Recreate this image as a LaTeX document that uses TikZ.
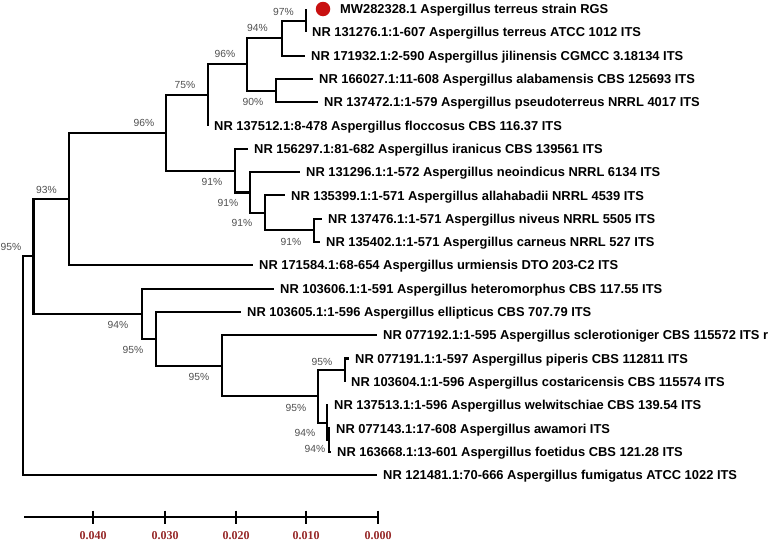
\documentclass[tikz,border=0pt]{standalone}
\usepackage{fontspec}
\newfontfamily\arialfont{Liberation Sans}
\newfontfamily\timesfont{Liberation Serif}
\definecolor{bscol}{RGB}{80,80,80}
\definecolor{scalecol}{RGB}{150,40,40}
\definecolor{dotred}{RGB}{200,16,16}
\begin{document}
\begin{tikzpicture}[x=1pt,y=-1pt,
  br/.style={line width=2.1pt},
  leaf/.style={anchor=west, inner xsep=6pt, inner ysep=0pt, text height=9.3pt, text depth=0pt,
    font=\arialfont\bfseries\fontsize{12.9}{14}\selectfont},
  bs/.style={inner sep=0pt, text=bscol, font=\arialfont\fontsize{10.3}{10.3}\selectfont},
  sclab/.style={inner sep=0pt, text=scalecol, font=\timesfont\bfseries\fontsize{12}{12}\selectfont},
  reddot/.style={circle, fill=dotred, minimum size=14.5pt, inner sep=0pt}]
\useasboundingbox (0,0) rectangle (777,541);
% internal nodes
\coordinate (root) at (23.3,365.7);
\coordinate (n93) at (33.5,256.4);
\coordinate (A) at (69.3,199.05);
\coordinate (B) at (166,132.8);
\coordinate (C) at (208,94.9);
\coordinate (D) at (247,64.3);
\coordinate (E) at (282,38.1);
\coordinate (F) at (306,20.65);
\coordinate (G) at (276,90.55);
\coordinate (H) at (235,170.65);
\coordinate (I) at (250,192.5);
\coordinate (J) at (265,212.9);
\coordinate (K) at (314,230.35);
\coordinate (M) at (142,313.7);
\coordinate (N) at (156,338.85);
\coordinate (O) at (222,365.8);
\coordinate (P) at (318,396.4);
\coordinate (Q) at (345,370.15);
\coordinate (R) at (326.7,422.6);
\coordinate (S) at (329,440.05);
% leaf ends
\coordinate (l1) at (306,9);
\coordinate (l2) at (306,32.3);
\coordinate (l3) at (305,55.6);
\coordinate (l4) at (313,78.9);
\coordinate (l5) at (318,102.2);
\coordinate (l6) at (208,125.5);
\coordinate (l7) at (248,148.8);
\coordinate (l8) at (300,172.1);
\coordinate (l9) at (285,195.4);
\coordinate (l10) at (322,218.7);
\coordinate (l11) at (320,242);
\coordinate (l12) at (253,265.3);
\coordinate (l13) at (274,288.6);
\coordinate (l14) at (241,311.9);
\coordinate (l15) at (377,335.2);
\coordinate (l16) at (349,358.5);
\coordinate (l17) at (345,381.8);
\coordinate (l18) at (328,405.1);
\coordinate (l19) at (330,428.4);
\coordinate (l20) at (331,451.7);
\coordinate (l21) at (377,475);
% branches
\draw[br] (root) |- (n93); \draw[br] (root) |- (l21);
\draw[br] (n93) |- (A); \draw[br] (n93) |- (M);
\draw[br] (A) |- (B); \draw[br] (A) |- (l12);
\draw[br] (B) |- (C); \draw[br] (B) |- (H);
\draw[br] (C) |- (D); \draw[br] (C) |- (l6);
\draw[br] (D) |- (E); \draw[br] (D) |- (G);
\draw[br] (E) |- (F); \draw[br] (E) |- (l3);
\draw[br] (F) |- (l1); \draw[br] (F) |- (l2);
\draw[br] (G) |- (l4); \draw[br] (G) |- (l5);
\draw[br] (H) |- (l7); \draw[br] (H) |- (I);
\draw[br] (I) |- (l8); \draw[br] (I) |- (J);
\draw[br] (J) |- (l9); \draw[br] (J) |- (K);
\draw[br] (K) |- (l10); \draw[br] (K) |- (l11);
\draw[br] (M) |- (l13); \draw[br] (M) |- (N);
\draw[br] (N) |- (l14); \draw[br] (N) |- (O);
\draw[br] (O) |- (l15); \draw[br] (O) |- (P);
\draw[br] (P) |- (Q); \draw[br] (P) |- (R);
\draw[br] (Q) |- (l16); \draw[br] (Q) |- (l17);
\draw[br] (R) |- (l18); \draw[br] (R) |- (S);
\draw[br] (S) |- (l19); \draw[br] (S) |- (l20);
% leaf labels
\node[reddot] (dot) at (323,9) {};
\node[leaf, inner xsep=0pt] (t1) at (340,9) {MW282328.1 Aspergillus terreus strain RGS};
\node[leaf] (t2) at (l2) {NR 131276.1:1-607 Aspergillus terreus ATCC 1012 ITS};
\node[leaf] (t3) at (l3) {NR 171932.1:2-590 Aspergillus jilinensis CGMCC 3.18134 ITS};
\node[leaf] (t4) at (l4) {NR 166027.1:11-608 Aspergillus alabamensis CBS 125693 ITS};
\node[leaf] (t5) at (l5) {NR 137472.1:1-579 Aspergillus pseudoterreus NRRL 4017 ITS};
\node[leaf] (t6) at (l6) {NR 137512.1:8-478 Aspergillus floccosus CBS 116.37 ITS};
\node[leaf] (t7) at (l7) {NR 156297.1:81-682 Aspergillus iranicus CBS 139561 ITS};
\node[leaf] (t8) at (l8) {NR 131296.1:1-572 Aspergillus neoindicus NRRL 6134 ITS};
\node[leaf] (t9) at (l9) {NR 135399.1:1-571 Aspergillus allahabadii NRRL 4539 ITS};
\node[leaf] (t10) at (l10) {NR 137476.1:1-571 Aspergillus niveus NRRL 5505 ITS};
\node[leaf] (t11) at (l11) {NR 135402.1:1-571 Aspergillus carneus NRRL 527 ITS};
\node[leaf] (t12) at (l12) {NR 171584.1:68-654 Aspergillus urmiensis DTO 203-C2 ITS};
\node[leaf] (t13) at (l13) {NR 103606.1:1-591 Aspergillus heteromorphus CBS 117.55 ITS};
\node[leaf] (t14) at (l14) {NR 103605.1:1-596 Aspergillus ellipticus CBS 707.79 ITS};
\node[leaf] (t15) at (l15) {NR 077192.1:1-595 Aspergillus sclerotioniger CBS 115572 ITS r};
\node[leaf] (t16) at (l16) {NR 077191.1:1-597 Aspergillus piperis CBS 112811 ITS};
\node[leaf] (t17) at (l17) {NR 103604.1:1-596 Aspergillus costaricensis CBS 115574 ITS};
\node[leaf] (t18) at (l18) {NR 137513.1:1-596 Aspergillus welwitschiae CBS 139.54 ITS};
\node[leaf] (t19) at (l19) {NR 077143.1:17-608 Aspergillus awamori ITS};
\node[leaf] (t20) at (l20) {NR 163668.1:13-601 Aspergillus foetidus CBS 121.28 ITS};
\node[leaf] (t21) at (l21) {NR 121481.1:70-666 Aspergillus fumigatus ATCC 1022 ITS};
% bootstrap values
\node[bs] (broot) at (11,247) {95\%};
\node[bs] (bA) at (46.5,190) {93\%};
\node[bs] (bB) at (144,123) {96\%};
\node[bs] (bC) at (185,85) {75\%};
\node[bs] (bD) at (225,54) {96\%};
\node[bs] (bE) at (257.5,28) {94\%};
\node[bs] (bF) at (283.5,12) {97\%};
\node[bs] (bG) at (253,102) {90\%};
\node[bs] (bH) at (212,182) {91\%};
\node[bs] (bI) at (228,203) {91\%};
\node[bs] (bJ) at (242,223) {91\%};
\node[bs] (bK) at (291,242) {91\%};
\node[bs] (bM) at (118,325) {94\%};
\node[bs] (bN) at (133,350) {95\%};
\node[bs] (bO) at (199,377) {95\%};
\node[bs] (bP) at (296,408) {95\%};
\node[bs] (bQ) at (322,362) {95\%};
\node[bs] (bR) at (305,433) {94\%};
\node[bs] (bS) at (315,449) {94\%};
% scale bar
\coordinate (s0) at (24,517);
\coordinate (s5) at (378,517);
\draw[line width=2.4pt] (s0) -- (s5);
\foreach \i/\x/\v in {1/93/0.040,2/165/0.030,3/236/0.020,4/306/0.010,5/378/0.000}{
  \coordinate (tk\i a) at (\x,510.5);
  \coordinate (tk\i b) at (\x,523.5);
  \draw[line width=2.4pt] (tk\i a) -- (tk\i b);
  \node[sclab] (sl\i) at (\x,535.5) {\v};
}
\end{tikzpicture}
\end{document}
